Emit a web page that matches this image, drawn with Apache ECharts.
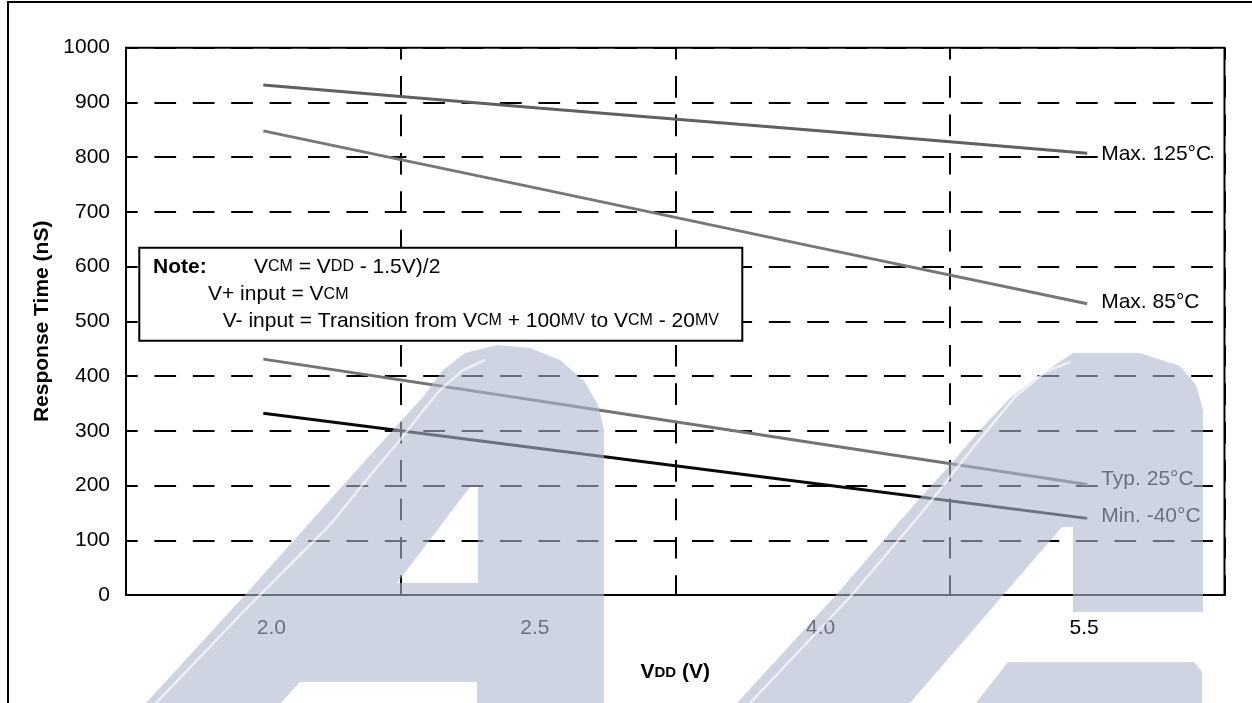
<!DOCTYPE html>
<html>
<head>
<meta charset="utf-8">
<script src="https://cdn.jsdelivr.net/npm/echarts@6/dist/echarts.min.js"></script>
<style>
  html, body { margin: 0; padding: 0; background: #fff; }
  #chart { width: 1252px; height: 703px; }
</style>
</head>
<body>
<div id="chart"></div>
<script>
// ---- data ----
const categories = ['2.0', '2.5', '4.0', '5.5'];
const seriesNames = ['Max. 125°C', 'Max. 85°C', 'Typ. 25°C', 'Min. -40°C'];
const max125 = [932, 890, 849, 807];
const max85 = [848, 743, 637, 532];
const typ25 = [431, 355, 278, 202];
const min40 = [332, 268, 204, 140];
const yMin = 0, yMax = 1000, yStep = 100;
const yTitle = 'Response Time (nS)';
const noteLines = [
  '{n|Note:}',
  '{r|V}{s|CM}{r| = V}{s|DD}{r| - 1.5V)/2}',
  '{r|V+ input = V}{s|CM}',
  '{r|V- input = Transition from V}{s|CM}{r| + 100}{s|MV}{r| to V}{s|CM}{r| - 20}{s|MV}'
];

const FONT = '"Liberation Sans", Arial, sans-serif';
const seriesColors = ['#606060', '#777777', '#747474', '#0a0a0a'];
const seriesData = [max125, max85, typ25, min40];
const labelOffsets = [[0, 1], [0, -2], [0, -5], [0, -2]];
const xLabelStyles = ['r', 'l', 'r', 'l'];

const chart = echarts.init(document.getElementById('chart'), null, { renderer: 'canvas' });

const dash = { color: '#000', width: 2, type: [21.7, 16.7], dashOffset: 10 };
const wm = 'rgba(175,183,208,0.6)';
const rich = {
  n: { fontFamily: FONT, fontSize: 21, fontWeight: 'bold', color: '#000' },
  r: { fontFamily: FONT, fontSize: 21, color: '#000' },
  s: { fontFamily: FONT, fontSize: 16, color: '#000' }
};

const option = {
  animation: false,
  backgroundColor: '#fff',
  textStyle: { fontFamily: FONT },
  grid: { left: 126, right: 27.5, top: 47.7, bottom: 108, show: true, borderColor: '#000', borderWidth: 2, containLabel: false },
  xAxis: {
    type: 'category',
    data: categories,
    boundaryGap: true,
    axisLine: { show: true, lineStyle: { color: '#000', width: 2 } },
    axisTick: { show: false },
    axisLabel: {
      color: '#000', fontSize: 21, fontFamily: FONT, margin: 23,
      formatter: (v, i) => '{' + xLabelStyles[i] + '|' + v + '}',
      rich: {
        r: { fontSize: 21, fontFamily: FONT, color: '#000', padding: [0, 0, 0, 16] },
        l: { fontSize: 21, fontFamily: FONT, color: '#000', padding: [0, 6, 0, 0] }
      }
    },
    splitLine: { show: true, lineStyle: dash },
    name: '{a|V}{b|DD}{a| (V)}',
    nameLocation: 'middle',
    nameGap: 67,
    nameTextStyle: {
      rich: {
        a: { fontFamily: FONT, fontSize: 21, fontWeight: 'bold', color: '#000' },
        b: { fontFamily: FONT, fontSize: 15, fontWeight: 'bold', color: '#000' }
      }
    }
  },
  yAxis: {
    type: 'value',
    min: yMin, max: yMax, interval: yStep,
    axisLine: { show: true, lineStyle: { color: '#000', width: 2 } },
    axisTick: { show: false },
    axisLabel: { color: '#000', fontSize: 21, fontFamily: FONT, margin: 16, formatter: v => String(v) },
    splitLine: { show: true, lineStyle: dash },
    name: yTitle,
    nameLocation: 'middle',
    nameGap: 65,
    nameTextStyle: { color: '#000', fontSize: 21, fontWeight: 'bold', fontFamily: FONT }
  },
  series: seriesNames.map((nm, i) => ({
    name: nm,
    type: 'line',
    data: seriesData[i],
    symbol: 'none',
    z: 3,
    lineStyle: { color: seriesColors[i], width: 3 },
    endLabel: {
      show: true,
      formatter: '{a}',
      distance: 14,
      offset: labelOffsets[i],
      color: '#000',
      fontSize: 21,
      fontFamily: FONT,
      backgroundColor: '#fff'
    }
  })),
  graphic: [
    // outer frame
    { type: 'polyline', z: 60, shape: { points: [[8, 703], [8, 2], [1252, 2]] }, style: { stroke: '#000', lineWidth: 2, fill: null } },
    // note box
    { type: 'rect', z: 50, shape: { x: 139.3, y: 247.7, width: 603, height: 93 }, style: { fill: '#fff', stroke: '#000', lineWidth: 2 } },
    { type: 'text', z: 51, x: 153, y: 267, style: { text: noteLines[0], rich: rich, verticalAlign: 'middle' } },
    { type: 'text', z: 51, x: 254, y: 267, style: { text: noteLines[1], rich: rich, verticalAlign: 'middle' } },
    { type: 'text', z: 51, x: 208, y: 294.5, style: { text: noteLines[2], rich: rich, verticalAlign: 'middle' } },
    { type: 'text', z: 51, x: 222.7, y: 321, style: { text: noteLines[3], rich: rich, verticalAlign: 'middle' } },
    // watermark: first letter (outer outline with the counter cut through a slit)
    { type: 'polygon', z: 100, silent: true,
      shape: { points: [[146, 703], [245, 595], [363, 463], [423, 397], [443, 370], [465, 353], [497, 345], [530, 348], [560, 360], [585, 382], [598, 405], [604, 430], [604, 703], [477, 703], [477, 682],
        [478, 583], [478, 487], [470, 487], [397, 583], [478, 583], [477, 682],
        [300, 682], [281, 703]] },
      style: { fill: wm } },
    // watermark: second letter
    { type: 'polygon', z: 100, silent: true,
      shape: { points: [[737, 703], [836, 595], [920, 498], [950, 465], [980, 430], [1010, 398], [1040, 375], [1073, 353], [1140, 353], [1180, 366], [1196, 385], [1203, 410], [1203, 612], [1073, 612], [1073, 527], [1062, 527], [910, 703]] },
      style: { fill: wm } },
    { type: 'polygon', z: 100, silent: true,
      shape: { points: [[976, 703], [1008, 662], [1194, 662], [1202, 672], [1202, 703]] },
      style: { fill: wm } },
    // highlights
    { type: 'polyline', z: 101, silent: true,
      shape: { points: [[156, 703], [245, 610], [290, 565], [330, 525], [368, 478], [400, 440], [422, 412], [440, 390], [463, 370], [485, 360]] },
      style: { stroke: 'rgba(255,255,255,0.65)', lineWidth: 2.5, fill: null } },
    { type: 'polyline', z: 101, silent: true,
      shape: { points: [[750, 703], [850, 597], [924, 510], [975, 445], [1015, 397], [1045, 372], [1070, 362]] },
      style: { stroke: 'rgba(255,255,255,0.65)', lineWidth: 2.5, fill: null } }
  ]
};

chart.setOption(option);
</script>
</body>
</html>
